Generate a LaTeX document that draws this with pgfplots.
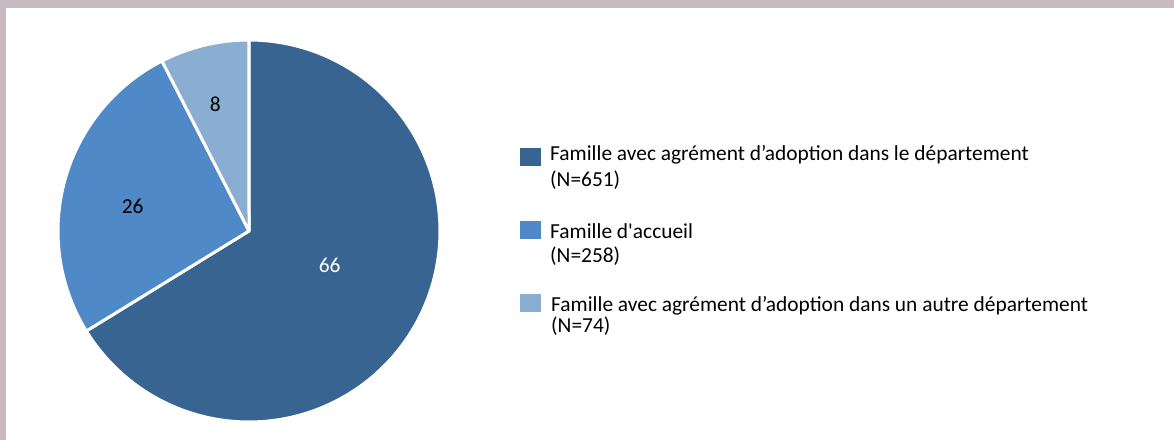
\documentclass[border=0pt]{standalone}
\usepackage{fontspec}
\setmainfont{Carlito}[Ligatures=TeXOff]
\usepackage{pgfplots}
\usepackage{pgfplotstable}
\pgfplotsset{compat=1.18}
\definecolor{frame}{HTML}{C8BAC1}
\definecolor{sA}{HTML}{376491}
\definecolor{sB}{HTML}{4F89C8}
\definecolor{sC}{HTML}{8AADD2}

\pgfplotstableread{
idx count pct
0 651 66
1 258 26
2 74 8
}\piedata
\pgfplotstablegetelem{0}{count}\of\piedata \let\nA\pgfplotsretval
\pgfplotstablegetelem{1}{count}\of\piedata \let\nB\pgfplotsretval
\pgfplotstablegetelem{2}{count}\of\piedata \let\nC\pgfplotsretval
\pgfmathsetmacro\tot{\nA+\nB+\nC}
\pgfmathsetmacro\aA{90}
\pgfmathsetmacro\aB{90-360*(\nA/\tot)}
\pgfmathsetmacro\aC{\aB-360*(\nB/\tot)}
\pgfmathsetmacro\aD{\aC-360*(\nC/\tot)}
\newcommand\lfont{\fontsize{21.4bp}{25bp}\selectfont}

\begin{document}%
\begin{tikzpicture}
\fill[frame] (0bp,0bp) rectangle (1174bp,440bp);
\fill[white] (6bp,0bp) rectangle (1174bp,432bp);
\begin{axis}[at={(249bp,209bp)}, anchor=center, width=382bp, height=382bp,
  scale only axis, xmin=-1, xmax=1, ymin=-1, ymax=1, hide axis, clip=false]
\addplot[fill=sA, draw=white, line width=3bp, line join=round, domain=\aB:\aA, samples=150] ({cos(x)},{sin(x)}) -- (axis cs:0,0) -- cycle;
\addplot[fill=sB, draw=white, line width=3bp, line join=round, domain=\aC:\aB, samples=80] ({cos(x)},{sin(x)}) -- (axis cs:0,0) -- cycle;
\addplot[fill=sC, draw=white, line width=3bp, line join=round, domain=\aD:\aC, samples=40] ({cos(x)},{sin(x)}) -- (axis cs:0,0) -- cycle;
\node[font=\lfont, text=white] at (axis cs:0.422,-0.178) {66};
\node[font=\lfont, text=black] at (axis cs:-0.609,0.127) {26};
\node[font=\lfont, text=black] at (axis cs:-0.176,0.666) {8};
\end{axis}
% legend
\fill[sA] (520bp,274bp) rectangle (541bp,292bp);
\fill[sB] (520bp,201bp) rectangle (541bp,219bp);
\fill[sC] (520bp,128bp) rectangle (541bp,146bp);
\node[font=\lfont, anchor=base west, inner sep=0pt] at (550bp,279bp) {Famille avec agrément d’adoption dans le département};
\node[font=\lfont, anchor=base west, inner sep=0pt] at (550bp,253bp) {(N=651)};
\node[font=\lfont, anchor=base west, inner sep=0pt] at (550bp,201bp) {Famille d'accueil};
\node[font=\lfont, anchor=base west, inner sep=0pt] at (550bp,177bp) {(N=258)};
\node[font=\lfont, anchor=base west, inner sep=0pt] at (551bp,128bp) {Famille avec agrément d’adoption dans un autre département};
\node[font=\lfont, anchor=base west, inner sep=0pt] at (551bp,107bp) {(N=74)};
\end{tikzpicture}%
\end{document}
